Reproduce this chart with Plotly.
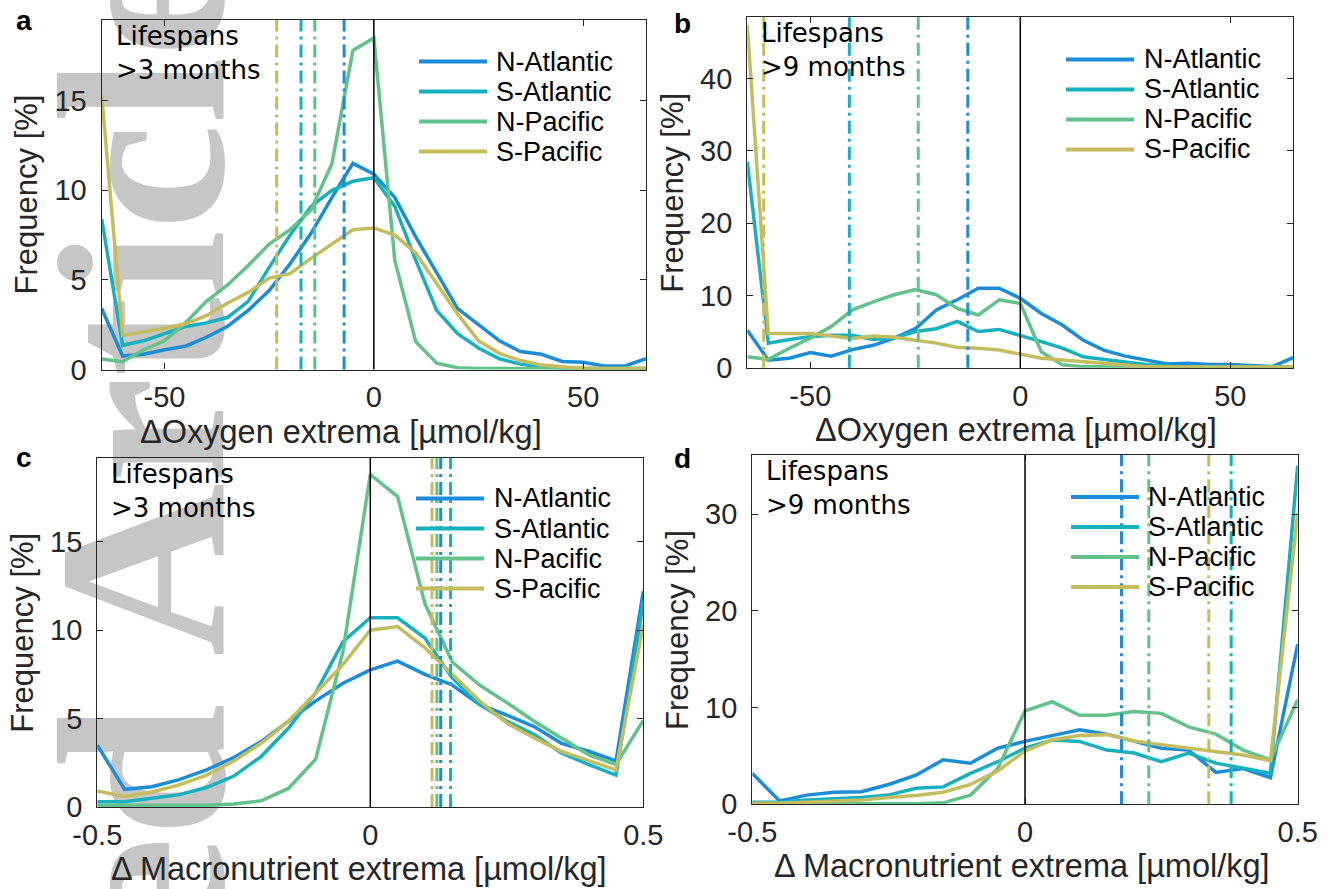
import plotly.graph_objects as go

W, H = 1333, 889

REGIONS = ["N-Atlantic", "S-Atlantic", "N-Pacific", "S-Pacific"]
COLORS = ["#1b8dd8", "#16b0bf", "#63c28a", "#c5bd5d"]

# Bin centres
OXY_BINS = [-65, -60, -55, -50, -45, -40, -35, -30, -25, -20, -15, -10, -5, 0,
            5, 10, 15, 20, 25, 30, 35, 40, 45, 50, 55, 60, 65]
NUT_BINS = [-0.5, -0.45, -0.4, -0.35, -0.3, -0.25, -0.2, -0.15, -0.1, -0.05, 0,
            0.05, 0.1, 0.15, 0.2, 0.25, 0.3, 0.35, 0.4, 0.45, 0.5]

# (a) oxygen extrema, lifespans > 3 months  [% of eddies]
A_NATL = [3.4, 0.75, 0.85, 1.1, 1.3, 1.8, 2.4, 3.3, 4.4, 5.9, 7.6, 9.6, 11.5, 10.9,
          9.6, 7.4, 5.4, 3.4, 2.5, 1.6, 1.0, 0.85, 0.45, 0.4, 0.2, 0.2, 0.6]
A_SATL = [8.4, 1.35, 1.6, 2.0, 2.4, 2.6, 2.9, 3.8, 5.7, 7.5, 9.1, 10.0, 10.5, 10.7,
          9.1, 6.1, 3.3, 2.0, 1.2, 0.6, 0.3, 0.15, 0.07, 0.05, 0.05, 0.05, 0.05]
A_NPAC = [0.58, 0.43, 1.1, 1.6, 2.6, 3.8, 4.7, 5.8, 7.0, 7.8, 8.9, 11.5, 17.8, 18.5,
          6.1, 1.55, 0.35, 0.1, 0.05, 0.05, 0.05, 0.05, 0.05, 0.05, 0.05, 0.05, 0.05]
A_SPAC = [15.3, 1.9, 2.1, 2.3, 2.55, 3.0, 3.7, 4.3, 5.1, 5.35, 6.2, 7.0, 7.8, 7.9,
          7.5, 6.5, 4.8, 3.1, 1.6, 0.9, 0.5, 0.25, 0.15, 0.05, 0.05, 0.05, 0.05]
A_MEAN = [-7.1, -17.4, -14.1, -23.2]

# (b) oxygen extrema, lifespans > 9 months
B_NATL = [5.2, 1.05, 1.3, 2.1, 1.6, 2.5, 3.1, 4.1, 5.4, 8.0, 9.4, 11.0, 11.0, 9.6,
          7.5, 5.9, 3.8, 2.4, 1.6, 1.1, 0.5, 0.6, 0.45, 0.45, 0.3, 0.15, 1.4]
B_SATL = [28.5, 3.4, 3.9, 4.3, 4.5, 4.5, 3.9, 4.1, 5.0, 5.4, 6.4, 5.0, 5.3, 4.5,
          3.6, 2.7, 1.5, 1.15, 0.8, 0.45, 0.25, 0.1, 0.1, 0.1, 0.1, 0.1, 0.1]
B_NPAC = [1.5, 1.15, 2.7, 4.1, 5.7, 8.0, 9.1, 10.1, 10.8, 10.1, 8.2, 7.3, 9.4, 8.9,
          2.2, 0.4, 0.15, 0.05, 0.05, 0.05, 0.05, 0.05, 0.05, 0.05, 0.05, 0.05, 0.05]
B_SPAC = [47.4, 4.75, 4.75, 4.75, 4.4, 4.05, 4.4, 4.2, 3.8, 3.4, 2.8, 2.7, 2.45, 1.9,
          1.3, 1.05, 0.8, 0.6, 0.3, 0.15, 0.1, 0.1, 0.1, 0.1, 0.1, 0.1, 0.1]
B_MEAN = [-12.5, -40.7, -24.3, -61.1]

# (c) macronutrient extrema, lifespans > 3 months
C_NATL = [3.5, 1.0, 1.15, 1.55, 2.1, 2.8, 3.7, 4.85, 6.0, 7.0, 7.75, 8.25, 7.5, 6.9,
          5.8, 5.2, 4.55, 3.6, 3.15, 2.6, 12.2]
C_SATL = [0.3, 0.3, 0.5, 0.7, 1.1, 1.75, 2.85, 4.45, 6.45, 9.35, 10.7, 10.7, 9.55, 7.3,
          5.8, 4.85, 4.1, 3.05, 2.4, 1.8, 11.6]
C_NPAC = [0.1, 0.1, 0.1, 0.1, 0.1, 0.17, 0.35, 1.05, 2.7, 8.8, 18.8, 17.55, 11.5, 8.2,
          6.9, 5.9, 4.85, 3.9, 2.95, 2.4, 4.9]
C_SPAC = [0.9, 0.6, 0.85, 1.25, 1.8, 2.6, 3.6, 4.85, 6.45, 8.05, 10.0, 10.2, 9.0, 7.5,
          6.0, 4.75, 3.9, 3.15, 2.6, 2.1, 10.3]
C_MEAN = [0.129, 0.147, 0.122, 0.113]

# (d) macronutrient extrema, lifespans > 9 months
D_NATL = [3.2, 0.35, 0.95, 1.25, 1.3, 2.05, 3.0, 4.6, 4.25, 5.8, 6.5, 7.1, 7.7, 7.25,
          6.5, 5.8, 5.6, 3.3, 3.7, 2.75, 16.55]
D_SATL = [0.2, 0.2, 0.45, 0.6, 0.7, 0.95, 1.65, 1.8, 3.2, 4.4, 5.8, 6.65, 6.5, 5.6,
          5.3, 4.4, 5.3, 4.25, 3.7, 3.2, 35.0]
D_NPAC = [0.05, 0.05, 0.05, 0.05, 0.05, 0.05, 0.05, 0.15, 0.95, 3.7, 9.65, 10.6, 9.2, 9.2,
          9.6, 9.4, 8.0, 7.25, 5.6, 4.6, 10.8]
D_SPAC = [0.1, 0.1, 0.2, 0.35, 0.45, 0.7, 0.9, 1.25, 2.05, 3.45, 5.5, 6.65, 7.1, 7.2,
          6.55, 6.15, 5.8, 5.45, 5.1, 4.5, 30.1]
D_MEAN = [0.177, 0.378, 0.227, 0.337]

OXY_TICKS = [-50, 0, 50]
NUT_TICKS = [-0.5, 0, 0.5]

SANS = "Liberation Sans, Arial, Helvetica, sans-serif"
NOTE_FONT = "DejaVu Sans, Open Sans, sans-serif"
AX = "#262626"

panels = [
    dict(letter="a", bins=OXY_BINS, series=[A_NATL, A_SATL, A_NPAC, A_SPAC], means=A_MEAN,
         xr=[-65, 65], yr=[0, 19.5], xt=OXY_TICKS, yt=[0, 5, 10, 15], life=">3 months",
         xtitle="ΔOxygen extrema [µmol/kg]", box=(101.7, 20.0, 646.0, 369.5), xtitle_x=341,
         leg=(419, 487, 494, 61.5), letter_xy=(24, 21)),
    dict(letter="b", bins=OXY_BINS, series=[B_NATL, B_SATL, B_NPAC, B_SPAC], means=B_MEAN,
         xr=[-65, 65], yr=[0, 48.5], xt=OXY_TICKS, yt=[0, 10, 20, 30, 40], life=">9 months",
         xtitle="ΔOxygen extrema [µmol/kg]", box=(747.3, 17.3, 1293.3, 367.7), xtitle_x=1016,
         leg=(1066, 1134, 1142, 59.5), letter_xy=(682, 24)),
    dict(letter="c", bins=NUT_BINS, series=[C_NATL, C_SATL, C_NPAC, C_SPAC], means=C_MEAN,
         xr=[-0.5, 0.5], yr=[0, 19.75], xt=NUT_TICKS, yt=[0, 5, 10, 15], life=">3 months",
         xtitle="Δ Macronutrient extrema [µmol/kg]", box=(97.3, 457.7, 643.3, 807.0),
         xtitle_x=359, leg=(416, 484, 492, 498.5), letter_xy=(24, 457)),
    dict(letter="d", bins=NUT_BINS, series=[D_NATL, D_SATL, D_NPAC, D_SPAC], means=D_MEAN,
         xr=[-0.5, 0.5], yr=[0, 36.1], xt=NUT_TICKS, yt=[0, 10, 20, 30], life=">9 months",
         xtitle="Δ Macronutrient extrema [µmol/kg]", box=(752.3, 455.0, 1297.7, 804.3),
         xtitle_x=1022, leg=(1071, 1139, 1146, 497), letter_xy=(682, 459)),
]


def px(x):
    return x / W


def py(y):
    return 1 - y / H


fig = go.Figure()
layout = dict(width=W, height=H, margin=dict(l=0, r=0, t=0, b=0),
              paper_bgcolor="white", plot_bgcolor="rgba(0,0,0,0)", showlegend=False)

annotations = []
shapes = []

# Journal watermark running up the left edge, behind the axes
shapes.append(dict(
    type="rect", xref="paper", yref="paper",
    x0=px(76), x1=px(156), y0=py(840), y1=py(760),
    line=dict(width=0), fillcolor="rgba(0,0,0,0)", layer="below",
    label=dict(text="<b>Accepted Article</b>", textangle=-90, textposition="middle center",
               font=dict(family="Liberation Serif, Times New Roman, serif",
                         size=240, color="#c6c6c6")),
))

for i, p in enumerate(panels, start=1):
    xa = "x" if i == 1 else f"x{i}"
    ya = "y" if i == 1 else f"y{i}"
    left, top, right, bottom = p["box"]

    for name, col, vals in zip(REGIONS, COLORS, p["series"]):
        fig.add_trace(go.Scatter(x=p["bins"], y=vals, mode="lines", name=name,
                                 line=dict(color=col, width=3.5),
                                 xaxis=xa, yaxis=ya, hoverinfo="skip"))

    ax_common = dict(showline=True, linecolor=AX, linewidth=1.3, mirror="ticks",
                     ticks="inside", ticklen=6, tickwidth=1.3, tickcolor=AX,
                     showgrid=False, zeroline=False, automargin=False,
                     tickfont=dict(family=SANS, size=29, color=AX))
    layout[f"xaxis{'' if i == 1 else i}"] = dict(
        ax_common, domain=[px(left), px(right)], range=p["xr"], tickvals=p["xt"],
        ticktext=[f"{v:g}" for v in p["xt"]], anchor=ya, ticklabelstandoff=2)
    layout[f"yaxis{'' if i == 1 else i}"] = dict(
        ax_common, domain=[py(bottom), py(top)], range=p["yr"], tickvals=p["yt"],
        anchor=xa, ticklabelstandoff=8)

    # mean of each region (dash-dot) and the zero reference line
    for col, m in zip(COLORS, p["means"]):
        shapes.append(dict(type="line", xref=xa, yref=f"{ya} domain", x0=m, x1=m, y0=0, y1=1,
                           line=dict(color=col, width=3, dash="13px,5px,3px,5px")))
    shapes.append(dict(type="line", xref=xa, yref=f"{ya} domain", x0=0, x1=0, y0=0, y1=1,
                       line=dict(color="black", width=1.5)))

    # legend drawn inside the axes
    lx0, lx1, tx, ly = p["leg"]
    for k, (name, col) in enumerate(zip(REGIONS, COLORS)):
        yy = ly + 30 * k
        shapes.append(dict(type="line", xref="paper", yref="paper",
                           x0=px(lx0), x1=px(lx1), y0=py(yy), y1=py(yy),
                           line=dict(color=col, width=4)))
        annotations.append(dict(x=px(tx), y=py(yy), xref="paper", yref="paper",
                                text=name, showarrow=False, xanchor="left", yanchor="middle",
                                font=dict(family=SANS, size=27, color="black")))

    # lifespan note
    annotations.append(dict(x=px(left + 12), y=py(top + 33), xref="paper", yref="paper",
                            text=f"Lifespans<br>{p['life'].replace('>', '&gt;')}",
                            showarrow=False, xanchor="left", yanchor="middle", align="left",
                            font=dict(family=NOTE_FONT, size=26, color="black")))

    # axis titles
    annotations.append(dict(x=px(p["xtitle_x"]), y=py(bottom + 62), xref="paper", yref="paper",
                            text=p["xtitle"], showarrow=False, xanchor="center", yanchor="middle",
                            font=dict(family=SANS, size=32.5, color=AX)))
    annotations.append(dict(x=px(left - 75), y=py((top + bottom) / 2), xref="paper", yref="paper",
                            text="Frequency [%]", showarrow=False, textangle=-90,
                            xanchor="center", yanchor="middle",
                            font=dict(family=SANS, size=31, color=AX)))

    # panel letter
    lxp, lyp = p["letter_xy"]
    annotations.append(dict(x=px(lxp), y=py(lyp), xref="paper", yref="paper",
                            text=f"<b>{p['letter']}</b>", showarrow=False,
                            xanchor="center", yanchor="middle",
                            font=dict(family=SANS, size=28, color="black")))

layout["shapes"] = shapes
layout["annotations"] = annotations
fig.update_layout(**layout)
fig.write_html("out.html")
